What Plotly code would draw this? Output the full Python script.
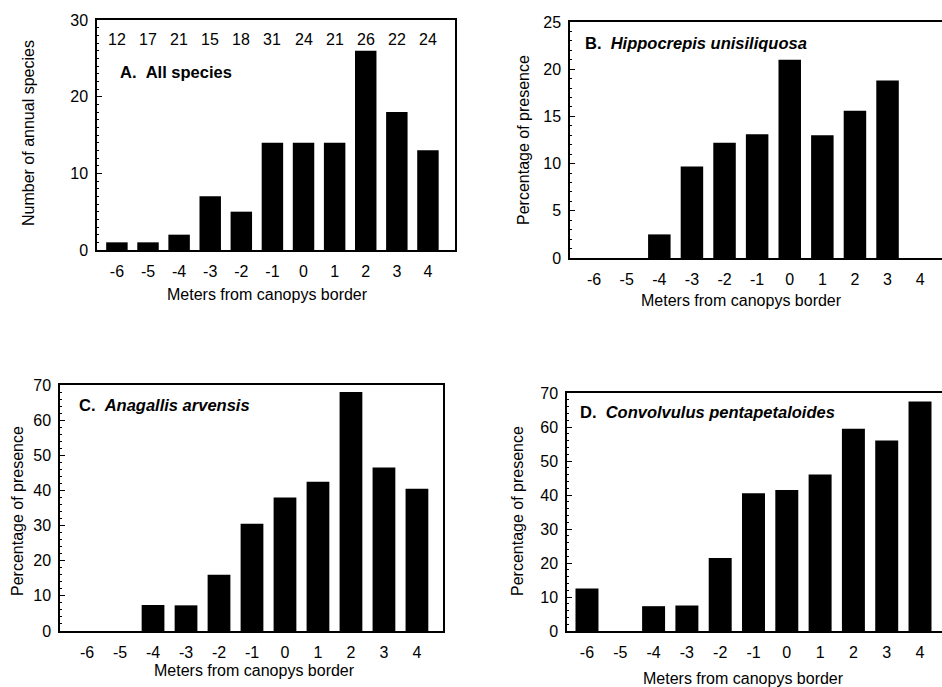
import plotly.graph_objects as go

W, H = 942, 687

# ---- data ----
positions = [-6, -5, -4, -3, -2, -1, 0, 1, 2, 3, 4]
position_labels = ["-6", "-5", "-4", "-3", "-2", "-1", "0", "1", "2", "3", "4"]

all_species = [1, 1, 2, 7, 5, 14, 14, 14, 26, 18, 13]
sample_counts = [12, 17, 21, 15, 18, 31, 24, 21, 26, 22, 24]
hippocrepis = [0, 0, 2.5, 9.7, 12.2, 13.1, 21.0, 13.0, 15.6, 18.8, 0]
anagallis = [0, 0, 7.4, 7.3, 16.0, 30.5, 38.0, 42.5, 68.0, 46.5, 40.5]
convolvulus = [12.5, 0, 7.3, 7.5, 21.5, 40.5, 41.5, 46.0, 59.5, 56.0, 67.5]

panel_titles = [
    "<b>A.\u00a0\u00a0All species</b>",
    "<b>B.\u00a0\u00a0<i>Hippocrepis unisiliquosa</i></b>",
    "<b>C.\u00a0\u00a0<i>Anagallis arvensis</i></b>",
    "<b>D.\u00a0\u00a0<i>Convolvulus pentapetaloides</i></b>",
]
y_titles = ["Number of annual species", "Percentage of presence",
            "Percentage of presence", "Percentage of presence"]
x_title = "Meters from canopys border"

FONT = "Liberation Sans, Arial, Helvetica, sans-serif"


def fx(px):
    return px / W


def fy(py):
    return 1 - py / H


panels = [
    dict(l=97, r=455, t=20, b=250, xr=[-6.64, 4.87], yr=[0, 30], dt=10, mdt=1,
         data=all_species, title_xy=(118, 72), yt_xy=(28, 133), xt_xy=(267, 295)),
    dict(l=570, r=942, t=22, b=258, xr=[-6.74, 4.67], yr=[0, 25], dt=5, mdt=1,
         data=hippocrepis, title_xy=(583, 43), yt_xy=(523, 140), xt_xy=(741, 301)),
    dict(l=60, r=443, t=385, b=631, xr=[-6.82, 4.79], yr=[0, 70], dt=10, mdt=2,
         data=anagallis, title_xy=(77, 405), yt_xy=(17, 511), xt_xy=(254, 670)),
    dict(l=567, r=942, t=393, b=631, xr=[-6.6, 4.66], yr=[0, 70], dt=10, mdt=2,
         data=convolvulus, title_xy=(578, 412), yt_xy=(517, 511), xt_xy=(743, 678)),
]

fig = go.Figure()
annotations = []
layout_axes = {}

for i, p in enumerate(panels):
    n = "" if i == 0 else str(i + 1)
    fig.add_trace(go.Bar(
        x=positions, y=p["data"], width=0.69,
        marker=dict(color="black", line=dict(color="black", width=0)),
        xaxis="x" + n, yaxis="y" + n, showlegend=False, hoverinfo="x+y",
    ))
    right_open = p["r"] >= W
    layout_axes["xaxis" + n] = dict(
        domain=[fx(p["l"]), min(1.0, fx(p["r"]))],
        range=p["xr"], anchor="y" + n,
        tickmode="array", tickvals=positions, ticktext=position_labels,
        ticks="", showline=True, linecolor="black", linewidth=1.5,
        mirror=True, showgrid=False, zeroline=False,
        tickfont=dict(family=FONT, size=16, color="black"),
        ticklabelstandoff=6, fixedrange=True,
    )
    layout_axes["yaxis" + n] = dict(
        domain=[fy(p["b"]), fy(p["t"])],
        range=p["yr"], anchor="x" + n,
        tickmode="linear", tick0=0, dtick=p["dt"],
        ticks="inside", ticklen=5, tickwidth=1.2, tickcolor="black",
        minor=dict(ticks="inside", ticklen=2.5, tickwidth=1, tickcolor="black",
                   dtick=p["mdt"], tick0=0),
        showline=True, linecolor="black", linewidth=1.5,
        mirror=False if right_open else True,
        showgrid=False, zeroline=False,
        tickfont=dict(family=FONT, size=16, color="black"),
        ticklabelstandoff=4, fixedrange=True,
    )
    tx, ty = p["title_xy"]
    annotations.append(dict(
        text=panel_titles[i], x=fx(tx), y=fy(ty), xref="paper", yref="paper",
        xanchor="left", yanchor="middle", showarrow=False,
        font=dict(family=FONT, size=16.5, color="black"),
    ))
    yx, yy = p["yt_xy"]
    annotations.append(dict(
        text=y_titles[i], x=fx(yx), y=fy(yy), xref="paper", yref="paper",
        xanchor="center", yanchor="middle", showarrow=False, textangle=-90,
        font=dict(family=FONT, size=16, color="black"),
    ))
    xx, xy = p["xt_xy"]
    annotations.append(dict(
        text=x_title, x=fx(xx), y=fy(xy), xref="paper", yref="paper",
        xanchor="center", yanchor="middle", showarrow=False,
        font=dict(family=FONT, size=16, color="black"),
    ))

for pos, c in zip(positions, sample_counts):
    annotations.append(dict(
        text=str(c), x=pos, y=fy(40), xref="x", yref="paper",
        xanchor="center", yanchor="middle", showarrow=False,
        font=dict(family=FONT, size=16, color="black"),
    ))

fig.update_layout(
    width=W, height=H, autosize=False,
    margin=dict(l=0, r=0, t=0, b=0, pad=0, autoexpand=False),
    paper_bgcolor="white", plot_bgcolor="white",
    annotations=annotations,
    **layout_axes,
)

fig.write_html(
    "out.html",
    config={"displayModeBar": False, "responsive": False},
    post_script="document.body.style.margin='0px';document.body.style.overflow='hidden';",
)
